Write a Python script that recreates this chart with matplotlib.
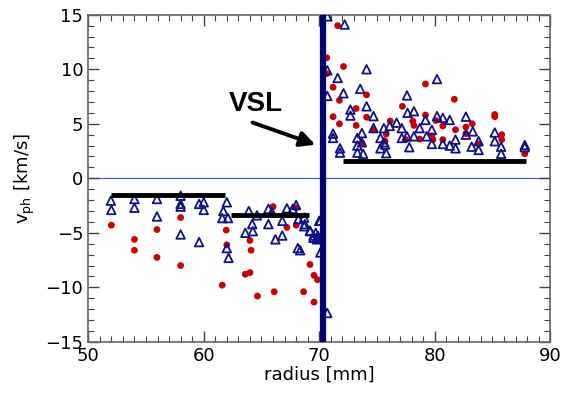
import matplotlib
matplotlib.use("Agg")
import matplotlib.pyplot as plt
from matplotlib.ticker import MultipleLocator

# Blue open triangles (radius mm, v_ph km/s)
tri_x = [51.96, 52.0, 54.0, 54.0, 55.95, 55.95, 58.0, 58.0, 58.0, 58.0, 59.6, 60.0, 60.0, 59.6,
         62.0, 61.7, 61.6, 62.1, 62.0, 62.15, 63.6, 63.9, 64.2, 64.25, 64.6, 65.6, 65.6, 65.9,
         66.2, 66.8, 66.8, 67.2, 67.7, 68.0, 68.2, 68.15, 68.7, 69.2, 69.5, 69.8, 70.1, 70.1,
         68.7, 68.75, 69.2, 69.5, 69.8, 70.0, 68.35, 69.9, 69.7,
         70.7, 70.7, 72.2, 70.7, 71.6, 74.1, 72.1, 73.55, 72.7, 72.7, 74.1, 74.7, 74.7, 71.2,
         71.2, 71.8, 71.8, 73.3, 73.3, 73.3, 73.7, 73.7, 73.8, 75.3, 75.6, 75.6, 75.7, 75.8,
         76.1, 76.7, 77.15, 77.15, 77.6, 77.65, 78.2, 77.8, 78.2, 78.7, 79.2, 79.3, 79.75,
         79.75, 80.2, 80.2, 80.7, 80.7, 81.3, 81.3, 81.8, 81.8, 82.7, 82.7, 83.3, 83.2, 83.8,
         83.8, 85.2, 85.2, 85.75, 85.75, 87.8, 87.8, 75.3, 77.6, 70.7]
tri_y = [-2.05, -2.9, -1.9, -2.7, -1.9, -3.5, -1.6, -2.35, -2.6, -5.15, -2.35, -2.2, -2.9, -5.85,
         -2.2, -3.0, -3.65, -3.65, -6.4, -7.3, -5.0, -3.0, -4.2, -4.85, -3.4, -2.8, -4.2, -3.1,
         -5.6, -5.25, -3.9, -2.75, -2.8, -2.45, -3.75, -6.4, -4.4, -4.8, -5.25, -5.45, -3.9, -6.8,
         -3.6, -4.2, -4.85, -5.45, -5.6, -3.9, -6.6, -5.3, -5.0,
         14.85, -12.35, 14.1, 9.9, 9.2, 10.0, 7.8, 8.2, 6.3, 5.75, 6.6, 5.7, 4.6, 4.1,
         3.7, 2.75, 2.35, 3.7, 3.0, 2.35, 4.15, 3.3, 2.25, 3.7, 4.6, 3.3, 3.1, 2.3,
         4.8, 5.1, 4.6, 3.7, 7.6, 6.0, 6.15, 2.85, 3.85, 4.6, 5.35, 3.85, 4.45,
         3.15, 9.1, 5.7, 5.55, 3.15, 5.35, 3.0, 3.55, 2.75, 5.65, 4.0, 4.3, 2.9, 3.4,
         2.6, 4.2, 3.4, 2.9, 2.25, 3.05, 2.85, 2.75, 3.85, 7.55]

# Red filled dots
dot_x = [52.0, 54.0, 54.0, 55.95, 55.95, 58.0, 58.0, 61.6, 61.95, 62.0,
         64.0, 64.1, 63.6, 64.0, 64.65, 66.1, 66.0, 67.2, 68.0, 68.0, 68.65, 69.2, 69.55,
         69.85, 69.55,
         71.6, 70.65, 70.65, 72.1, 71.2, 71.75, 71.2, 71.75, 73.2, 74.1, 74.1, 73.2, 74.7,
         76.15, 75.8, 75.7, 77.2, 77.5, 78.1, 78.2, 78.7, 79.2, 79.2, 79.75, 79.85, 80.1,
         80.7, 80.7, 81.7, 81.8, 82.7, 83.25, 82.7, 83.8, 85.2, 85.2, 85.8, 85.8, 87.8, 73.7]
dot_y = [-4.3, -5.6, -6.6, -4.7, -7.25, -3.6, -8.0, -9.8, -4.75, -6.1,
         -5.7, -6.6, -8.8, -8.65, -10.8, -10.4, -2.6, -4.5, -4.3, -2.7, -10.4, -7.9, -8.9,
         -9.3, -11.35,
         14.0, 11.05, 9.6, 10.25, 8.35, 7.15, 5.65, 5.0, 6.4, 7.65, 5.6, 4.85, 4.45,
         5.25, 4.05, 3.4, 6.6, 3.55, 5.25, 4.85, 3.6, 8.65, 5.8, 3.9, 3.55, 5.3,
         4.8, 3.55, 7.25, 4.45, 4.7, 5.0, 4.1, 3.15, 5.85, 5.65, 4.0, 3.55, 2.25, 3.2]

# Black mean-level segments: (x start, x end, level)
seg_x0 = [52.0, 62.4, 72.1]
seg_x1 = [61.8, 69.1, 87.9]
seg_y = [-1.5, -3.35, 1.6]

vsl_x = 70.3

fig = plt.figure(figsize=(5.62, 3.98), dpi=100)
ax = fig.add_axes([0.157, 0.141, 0.822, 0.822])

ax.axhline(0, color='#5060d0', lw=0.9, zorder=1)
ax.scatter(dot_x, dot_y, s=24, color='#cc0000', edgecolors='none', zorder=2)
ax.scatter(tri_x, tri_y, s=38, marker='^', facecolors='none', edgecolors='#10108c',
           linewidths=1.3, zorder=3)
for a, b, c in zip(seg_x0, seg_x1, seg_y):
    ax.plot([a, b], [c, c], color='black', lw=3.5, solid_capstyle='butt', zorder=4)
ax.axvline(vsl_x, color='#000070', lw=4.5, zorder=5)

ax.annotate('', xy=(69.9, 3.0), xytext=(64.0, 5.2),
            arrowprops=dict(arrowstyle='-|>,head_length=0.9,head_width=0.45',
                            color='black', lw=2.8), zorder=6)
ax.text(64.5, 6.8, 'VSL', fontsize=20, fontweight='bold', family='Liberation Sans',
        ha='center', va='center', zorder=6)

ax.set_xlim(50, 90)
ax.set_ylim(-15, 15)
ax.xaxis.set_major_locator(MultipleLocator(10))
ax.xaxis.set_minor_locator(MultipleLocator(1))
ax.yaxis.set_major_locator(MultipleLocator(5))
ax.yaxis.set_minor_locator(MultipleLocator(1))
ax.tick_params(which='both', direction='in', top=True, right=True, color='#444444',
               labelsize=13)
ax.tick_params(which='major', length=8, width=1)
ax.tick_params(which='minor', length=4, width=0.8)
for sp in ax.spines.values():
    sp.set_color('#666666')
    sp.set_linewidth(1.2)

ax.set_xlabel('radius [mm]', fontsize=13, labelpad=1)
ax.set_ylabel(r'v$_{\rm ph}$ [km/s]', fontsize=13, labelpad=6)

fig.savefig('out.png', dpi=100)
